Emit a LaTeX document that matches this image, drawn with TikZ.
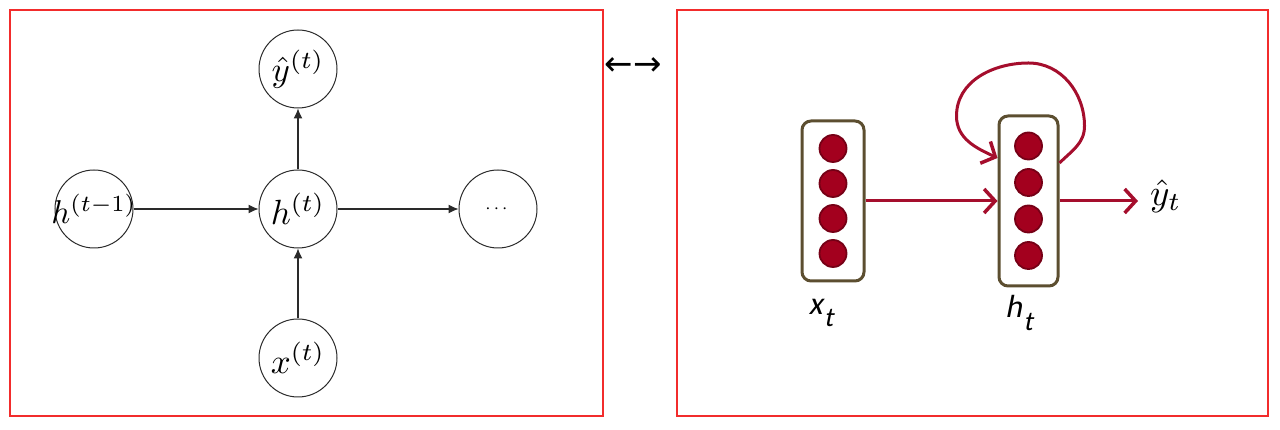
\documentclass[tikz,border=0pt]{standalone}
\usepackage{fontspec,amsmath}
\usetikzlibrary{arrows.meta,positioning}
\newfontfamily\arrowfont{DejaVu Sans}
\newfontfamily\slidefont{Carlito}[FakeSlant=0.2]
\definecolor{frm}{HTML}{F22C2C}
\definecolor{olive}{HTML}{5C4E30}
\definecolor{cellred}{HTML}{A3001E}
\definecolor{celledge}{HTML}{760016}
\definecolor{wire}{HTML}{A50E2D}
\definecolor{ink}{HTML}{2A2A2A}
\newcommand{\lsub}[2]{#1\kern.05em\raisebox{-.38em}{\scalebox{.85}{#2}}}
\newcommand{\mth}[2][3.5]{\makebox[0pt]{\scalebox{#1}{$#2$}}}
\tikzset{
  frame/.style={draw=frm,line width=1.5pt},
  cell/.style={draw=ink,circle,line width=1pt,minimum size=78pt,inner sep=0pt},
  ar/.style={-{Latex[length=10pt,width=9pt]},draw=ink,line width=1.1pt},
  vec/.style={draw=olive,line width=3pt,rounded corners=9pt,minimum width=59pt,inner sep=0pt},
  dot/.style={circle,fill=cellred,draw=celledge,line width=1.8pt,minimum size=27pt,inner sep=0pt},
  rar/.style={-{Straight Barb[length=11pt,width=24pt,line width=3.5pt]},draw=wire,line width=3pt},
  lbl/.style={font=\slidefont\fontsize{32}{36}\selectfont},
}
\begin{document}
\begin{tikzpicture}[x=1pt,y=1pt]
  \useasboundingbox (0,0) rectangle (1280,430);

  % unrolled cell
  \draw[frame] (10,14) rectangle (603,420);
  \node[cell] (h) at (298,221) {\mth{h^{(t)}}};
  \node[cell, above=61pt of h] (yhat) {\mth{\hat{y}^{(t)}}};
  \node[cell, left=125pt of h] (hprev) {\mth[3.3]{h^{(t-1)}}};
  \node[cell, right=121pt of h] (next) {\mth[1.9]{\cdots}};
  \node[cell, below=70pt of h] (x) {\mth{x^{(t)}}};
  \draw[ar] (hprev) -- (h);
  \draw[ar] (h) -- (next);
  \draw[ar] (x) -- (h);
  \draw[ar] (h) -- (yhat);

  \node[font=\arrowfont\fontsize{34}{38}\selectfont,inner sep=0pt] (eq) at (633,363) {←→};

  % recurrent view
  \draw[frame] (677,14) rectangle (1268,420);
  \node[vec, minimum height=160pt, minimum width=62pt] (xbox) at (833,229) {};
  \node[vec, minimum height=170pt, right=132pt of xbox] (hbox) {};
  \foreach \i in {0,...,3} {
    \node[dot] (xd\i) at ([yshift=52.5pt-\i*35pt]xbox.center) {};
    \node[dot] (hd\i) at ([yshift=55pt-\i*36.5pt]hbox.center) {};
  }
  \node[lbl] (xlab) at (821,117) {\lsub{x}{t}};
  \node[lbl] (hlab) at (1019,117) {\lsub{h}{t}};
  \node[anchor=west,inner sep=0pt] (yt) at (1150,234) {\scalebox{3.7}{$\hat{y}_t$}};

  \coordinate (lout) at ([yshift=38pt]hbox.east);
  \coordinate (lin) at ([yshift=43pt]hbox.west);
  \coordinate (loopR) at ([shift={(25,75)}]hbox.east);
  \coordinate (loopT) at ([yshift=138pt]hbox.center);
  \coordinate (loopL) at ([shift={(-41,85)}]hbox.west);

  \draw[rar] (xbox) -- (hbox);
  \draw[rar] (hbox.east) -- ([xshift=-12pt]hbox.east -| yt.west);
  \draw[rar] (lout) to[out=45,in=-90] (loopR) to[out=90,in=0] (loopT)
    to[out=180,in=90] (loopL) to[out=-90,in=155] (lin);
\end{tikzpicture}
\end{document}
